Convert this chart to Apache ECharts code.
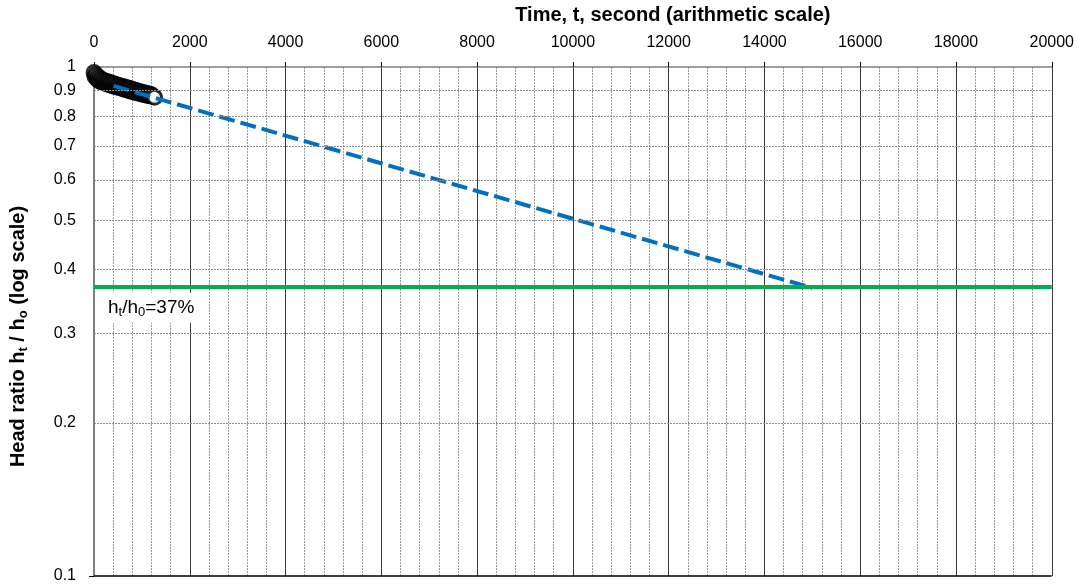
<!DOCTYPE html>
<html>
<head>
<meta charset="utf-8">
<script src="https://cdn.jsdelivr.net/npm/echarts@6/dist/echarts.min.js"></script>
<style>
  html, body { margin: 0; padding: 0; background: #fff; }
  #chart { width: 1077px; height: 586px; }
</style>
</head>
<body>
<div id="chart"></div>
<script>
// Slug test readings: elapsed time (s) and normalised head h_t / h_o
const timeSec = [0, 20, 40, 60, 80, 100, 120, 140, 160, 180, 200, 220, 240, 260, 280,
  300, 320, 340, 360, 380, 400, 420, 440, 460, 480, 500, 520, 540, 560, 580, 600,
  620, 640, 660, 680, 700, 720, 740, 760, 780, 800, 820, 840, 860, 880, 900, 920,
  940, 960, 980, 1000, 1020, 1040, 1060, 1080, 1100, 1120, 1140, 1160, 1180, 1200,
  1230, 1265];
const headRatio = [0.975, 0.958, 0.966, 0.948, 0.957, 0.941, 0.950, 0.936, 0.945, 0.933,
  0.941, 0.930, 0.938, 0.927, 0.935, 0.925, 0.932, 0.922, 0.930, 0.920, 0.927, 0.917,
  0.925, 0.915, 0.922, 0.913, 0.920, 0.910, 0.917, 0.908, 0.915, 0.905, 0.913, 0.903,
  0.910, 0.901, 0.908, 0.898, 0.906, 0.896, 0.903, 0.894, 0.901, 0.892, 0.899, 0.890,
  0.896, 0.888, 0.894, 0.886, 0.892, 0.884, 0.890, 0.882, 0.888, 0.880, 0.886, 0.879,
  0.884, 0.877, 0.882, 0.876, 0.872];

// Straight-line fit on semi-log paper, extended to the 37 % head ratio
const fitTime = [410, 15000];
const fitRatio = [0.918, 0.368];

// Reference ratio h_t / h_0 = 37 %
const basicRatio = 0.37;

// Intermediate log-decade gridlines
const yGridValues = [0.2, 0.3, 0.4, 0.5, 0.6, 0.7, 0.8, 0.9];

const FONT = '"Liberation Sans", Arial, sans-serif';

const scatterData = timeSec.map((t, i) => [t, headRatio[i]]);
const fitData = fitTime.map((t, i) => [t, fitRatio[i]]);

const chart = echarts.init(document.getElementById('chart'), null, { renderer: 'canvas' });

chart.setOption({
  animation: false,
  backgroundColor: '#ffffff',
  textStyle: { fontFamily: FONT },
  grid: { left: 92, right: 25, top: 64, bottom: 10, containLabel: false },
  xAxis: {
    type: 'value',
    position: 'top',
    min: 0,
    max: 20000,
    interval: 2000,
    name: 'Time, t, second (arithmetic scale)',
    nameLocation: 'middle',
    nameGap: 42,
    nameTextStyle: {
      fontFamily: FONT, fontSize: 20, fontWeight: 'bold', color: '#000',
      padding: [0, 0, 0, 200]
    },
    axisLine: { show: true, lineStyle: { color: '#7f7f7f', width: 1.5 } },
    axisTick: { show: true, inside: false, length: 5, lineStyle: { color: '#000' } },
    axisLabel: {
      fontFamily: FONT, fontSize: 16, color: '#000', margin: 16,
      formatter: v => String(v)
    },
    splitLine: { show: true, lineStyle: { color: '#3a3a3a', width: 1 } },
    minorTick: { show: false, splitNumber: 5 },
    minorSplitLine: { show: true, lineStyle: { color: '#9a9a9a', width: 1, type: [2, 1] } }
  },
  yAxis: {
    type: 'log',
    logBase: 10,
    min: 0.1,
    max: 1,
    name: '{b|Head ratio h}{s|t}{b| / h}{s|o}{b| (log scale)}',
    nameLocation: 'middle',
    nameGap: 64,
    nameRotate: 90,
    nameTextStyle: {
      padding: [0, 30, 0, 0],
      rich: {
        b: { fontFamily: FONT, fontSize: 20, fontWeight: 'bold', color: '#000', lineHeight: 24 },
        s: { fontFamily: FONT, fontSize: 13, fontWeight: 'bold', color: '#000', verticalAlign: 'bottom', lineHeight: 14 }
      }
    },
    axisLine: { show: true, lineStyle: { color: '#7f7f7f', width: 2 } },
    axisTick: { show: true, length: 5, lineStyle: { color: '#000' } },
    axisLabel: {
      fontFamily: FONT, fontSize: 16, color: '#000', margin: 18,
      formatter: v => String(Math.round(v * 10) / 10)
    },
    splitLine: { show: false },
    minorSplitLine: { show: false }
  },
  series: [
    {
      name: 'observed',
      type: 'scatter',
      data: scatterData,
      symbol: 'circle',
      symbolSize: 14,
      itemStyle: { color: '#ffffff', borderColor: '#000000', borderWidth: 3 },
      z: 3,
      markLine: {
        silent: true,
        symbol: 'none',
        animation: false,
        lineStyle: { color: '#8c8c8c', width: 1, type: [2, 1] },
        label: {
          show: true,
          position: 'start',
          distance: 18,
          fontFamily: FONT,
          fontSize: 16,
          color: '#000',
          formatter: p => String(p.value)
        },
        data: yGridValues.map(v => ({ yAxis: v })).concat([
          { yAxis: 0.1, lineStyle: { color: '#000', type: 'solid', width: 1.5 }, label: { show: false } }
        ])
      }
    },
    {
      name: 'fit',
      type: 'line',
      data: fitData,
      symbol: 'none',
      lineStyle: { color: '#0070c0', width: 4, type: [16, 6] },
      z: 4
    },
    {
      name: 'basic',
      type: 'line',
      data: [],
      z: 5,
      markLine: {
        silent: true,
        symbol: 'none',
        animation: false,
        lineStyle: { color: '#00b050', width: 4, type: 'solid' },
        label: {
          show: true,
          position: 'insideStartBottom',
          distance: 6,
          backgroundColor: '#ffffff',
          padding: [4, 4, 4, 8],
          formatter: '{m|h}{s|t}{m|/h}{s|0}{m|=37%}',
          rich: {
            m: { fontFamily: FONT, fontSize: 19, color: '#000', lineHeight: 22 },
            s: { fontFamily: FONT, fontSize: 13, color: '#000', verticalAlign: 'bottom', lineHeight: 14 }
          }
        },
        data: [{ yAxis: basicRatio }]
      }
    }
  ]
});
</script>
</body>
</html>
